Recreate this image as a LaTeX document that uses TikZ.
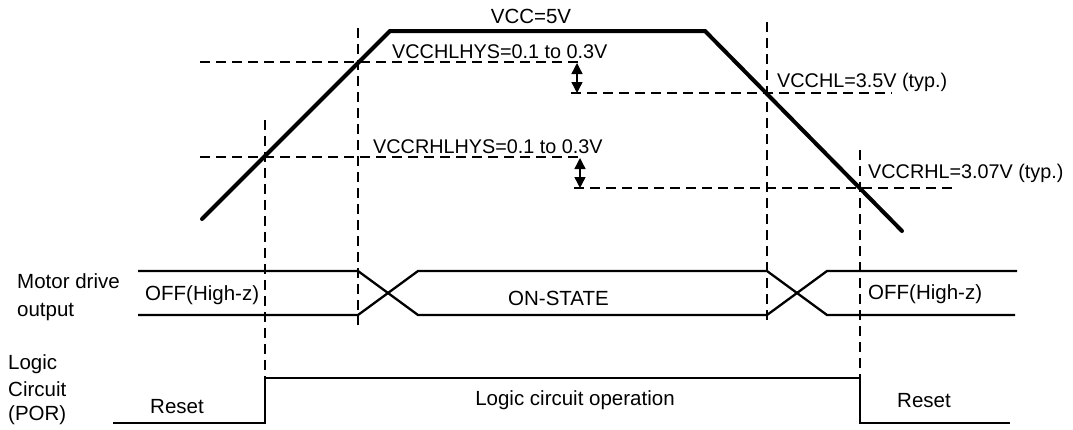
\documentclass[tikz,border=0pt]{standalone}
\usepackage{fontspec}
\setmainfont{Liberation Sans}
\usetikzlibrary{arrows.meta}
\begin{document}
\begin{tikzpicture}[x=1pt,y=-1pt,
  vcurve/.style={line width=4pt,line join=miter,line cap=round},
  sig/.style={line width=2.3pt,line join=miter},
  guide/.style={line width=1.3pt,dash pattern=on 10pt off 6pt},
  hys/.style={line width=1.4pt,{Triangle[width=11pt,length=11pt]}-{Triangle[width=11pt,length=11pt]}},
  lbl/.style={inner sep=0pt,anchor=base west,font=\fontsize{20.5}{24}\selectfont},
  vlbl/.style={inner sep=0pt,anchor=base west,font=\fontsize{19.8}{23}\selectfont}]
\useasboundingbox (0,0) rectangle (1073,429);
% VCC curve
\coordinate (c0) at (202,219);
\coordinate (c1) at (390,31);
\coordinate (c2) at (705,31);
\coordinate (c3) at (902,231);
\draw[vcurve] (c0) -- (c1) -- (c2) -- (c3);
% guide lines (vertical)
\coordinate (v1t) at (265,120); \coordinate (v1b) at (265,378);
\coordinate (v2t) at (358,28);  \coordinate (v2b) at (358,325);
\coordinate (v3t) at (767,22);  \coordinate (v3b) at (767,325);
\coordinate (v4t) at (860,150); \coordinate (v4b) at (860,378);
\draw[guide] (v1t) -- (v1b);
\draw[guide] (v2t) -- (v2b);
\draw[guide] (v3t) -- (v3b);
\draw[guide] (v4t) -- (v4b);
% guide lines (horizontal)
\coordinate (h1a) at (200,62);  \coordinate (h1b) at (578,62);
\coordinate (h2a) at (571,93);  \coordinate (h2b) at (892,93);
\coordinate (h3a) at (200,157); \coordinate (h3b) at (581,157);
\coordinate (h4a) at (574,188); \coordinate (h4b) at (952,188);
\draw[guide] (h1a) -- (h1b);
\draw[guide] (h2a) -- (h2b);
\draw[guide] (h3a) -- (h3b);
\draw[guide] (h4a) -- (h4b);
% hysteresis arrows
\coordinate (a1t) at (577,63); \coordinate (a1b) at (577,93);
\coordinate (a2t) at (580,158); \coordinate (a2b) at (580,188);
\draw[hys] (a1t) -- (a1b);
\draw[hys] (a2t) -- (a2b);
% voltage labels
\node[inner sep=0pt,anchor=base,font=\fontsize{20.5}{24}\selectfont] (vcc) at (531,23) {VCC=5V};
\node[vlbl] (hys1) at (392,58) {VCCHLHYS=0.1 to 0.3V};
\node[vlbl] (vhl) at (777,87) {VCCHL=3.5V (typ.)};
\node[vlbl] (hys2) at (373,153) {VCCRHLHYS=0.1 to 0.3V};
\node[vlbl] (vrhl) at (868,178) {VCCRHL=3.07V (typ.)};
% motor drive output
\coordinate (m1) at (138,271); \coordinate (m2) at (358,271); \coordinate (m3) at (418,315);
\coordinate (m4) at (767,315); \coordinate (m5) at (827,271); \coordinate (m6) at (1017,271);
\coordinate (n1) at (138,315); \coordinate (n2) at (358,315); \coordinate (n3) at (418,271);
\coordinate (n4) at (767,271); \coordinate (n5) at (827,315); \coordinate (n6) at (1015,315);
\draw[sig] (m1) -- (m2) -- (m3) -- (m4) -- (m5) -- (m6);
\draw[sig] (n1) -- (n2) -- (n3) -- (n4) -- (n5) -- (n6);
\node[lbl] (md1) at (17,288) {Motor drive};
\node[lbl] (md2) at (17,316) {output};
\node[lbl] (off1) at (145,300) {OFF(High-z)};
\node[lbl] (on) at (508,305) {ON-STATE};
\node[lbl] (off2) at (868,299) {OFF(High-z)};
% logic circuit
\coordinate (l1) at (113,423); \coordinate (l2) at (265,423); \coordinate (l3) at (265,378);
\coordinate (l4) at (860,378); \coordinate (l5) at (860,423); \coordinate (l6) at (1010,423);
\draw[sig] (l1) -- (l2) -- (l3) -- (l4) -- (l5) -- (l6);
\node[lbl] (lg1) at (8,369) {Logic};
\node[lbl] (lg2) at (8,396) {Circuit};
\node[lbl] (lg3) at (8,420) {(POR)};
\node[lbl] (rs1) at (150,413) {Reset};
\node[lbl] (rs2) at (897,407) {Reset};
\node[inner sep=0pt,anchor=base,font=\fontsize{20.5}{24}\selectfont] (op) at (575,405) {Logic circuit operation};
\end{tikzpicture}
\end{document}
